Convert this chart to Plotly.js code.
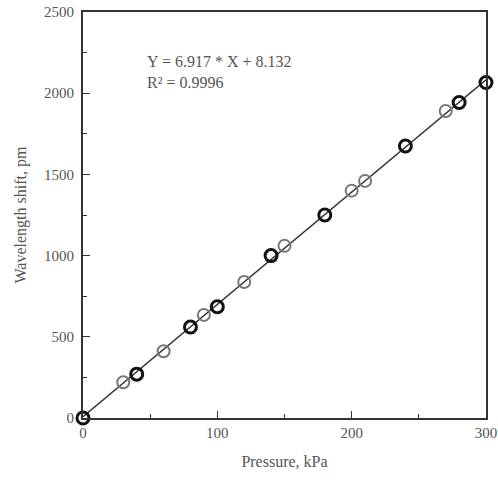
<!DOCTYPE html>
<html><head><meta charset="utf-8">
<script src="https://cdn.plot.ly/plotly-3.0.1.min.js"></script>
<style>html,body{margin:0;padding:0;background:#fff}#chart{width:498px;height:483px}</style>
</head><body><div id="chart"></div>
<script>
// Series A (dark circles)
const darkX = [0, 40, 80, 100, 140, 180, 240, 280, 300];
const darkY = [0, 270, 560, 685, 1000, 1250, 1675, 1943, 2066];
// Series B (light circles)
const lightX = [30, 60, 90, 120, 150, 200, 210, 270];
const lightY = [220, 411, 635, 837, 1060, 1400, 1460, 1890];
// Fit line endpoints (Y = 6.917*X + 8.132)
const fitX = [0, 300];
const fitY = [8, 2083];
const xTicks = [0, 100, 200, 300];
const yTicks = [0, 500, 1000, 1500, 2000, 2500];
const eqText = ["Y = 6.917 * X + 8.132", "R\u00b2 = 0.9996"];

const fam = "Liberation Serif, Times New Roman, serif";
const tickFont = {family: fam, size: 15, color: "#555"};
const titleFont = {family: fam, size: 16, color: "#555"};
const traces = [
  {x: fitX, y: fitY, mode: "lines", line: {color: "#333", width: 1.5}, hoverinfo: "skip", cliponaxis: false},
  {x: lightX, y: lightY, mode: "markers", cliponaxis: false,
   marker: {symbol: "circle-open", size: 12, color: "#777", line: {width: 2, color: "#777"}}},
  {x: darkX, y: darkY, mode: "markers", cliponaxis: false,
   marker: {symbol: "circle-open", size: 12, color: "#111", line: {width: 3, color: "#111"}}}
];
const layout = {
  width: 498, height: 483,
  margin: {l: 83, r: 12, t: 12, b: 65},
  paper_bgcolor: "#fff", plot_bgcolor: "#fff",
  showlegend: false, font: tickFont,
  xaxis: {range: [0, 300], tickvals: xTicks, ticktext: xTicks.map(String), tickfont: tickFont,
    ticklabeloverflow: "allow",
    ticks: "inside", ticklen: 7, tickcolor: "#333", showgrid: false, zeroline: false,
    showline: true, linecolor: "#333", linewidth: 2, mirror: true,
    minor: {ticks: "inside", ticklen: 4, dtick: 50, tickcolor: "#333", showgrid: false},
    title: {text: "Pressure, kPa", font: titleFont, standoff: 16}},
  yaxis: {range: [0, 2500], tickvals: yTicks, ticktext: yTicks.map(String), tickfont: tickFont,
    ticklabelstandoff: 4,
    ticks: "inside", ticklen: 7, tickcolor: "#333", showgrid: false, zeroline: false,
    showline: true, linecolor: "#333", linewidth: 2, mirror: true,
    minor: {ticks: "inside", ticklen: 4, dtick: 250, tickcolor: "#333", showgrid: false},
    title: {text: "Wavelength shift, pm", font: titleFont, standoff: 13}},
  annotations: [{xref: "paper", yref: "paper", x: 0.155, y: 0.905, xanchor: "left", yanchor: "top",
    align: "left", showarrow: false, text: eqText.join("<br>"), font: titleFont}]
};
Plotly.newPlot("chart", traces, layout, {displayModeBar: false, staticPlot: true});
</script></body></html>
